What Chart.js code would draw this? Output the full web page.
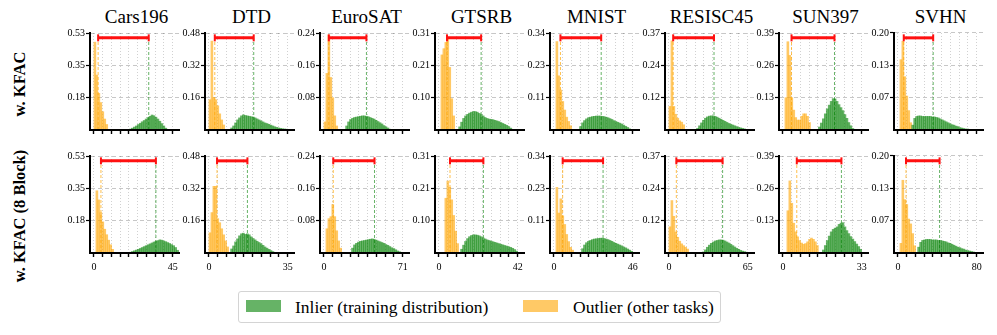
<!DOCTYPE html>
<html lang="en">
<head>
<meta charset="UTF-8">
<title>KFAC score histograms</title>
<script src="https://cdn.jsdelivr.net/npm/chart.js"></script>
<style>
    body { margin: 0; background: #fff; }
    #figure {
        position: relative;
        width: 997px;
        height: 335px;
        font-family: "Liberation Serif", "DejaVu Serif", serif;
        color: #000;
    }
    #figure canvas { position: absolute; }
    .title {
        position: absolute;
        top: 5px;
        width: 93px;
        text-align: center;
        font-size: 19px;
        line-height: 24px;
        white-space: nowrap;
    }
    .rowlabel {
        position: absolute;
        width: 200px;
        height: 24px;
        line-height: 24px;
        text-align: center;
        font-size: 16.5px;
        font-weight: bold;
        transform: rotate(-90deg);
        white-space: nowrap;
    }
    #legend {
        position: absolute;
        left: 238px;
        top: 291px;
        width: 483px;
        height: 32px;
        border: 1px solid #d4d4d4;
        border-radius: 3px;
        box-sizing: border-box;
        font-size: 17.5px;
    }
    #legend .patch { position: absolute; top: 8px; width: 35px; height: 12px; }
    #legend .label { position: absolute; top: 2px; line-height: 26px; white-space: nowrap; }
</style>
</head>
<body>
<div id="figure">
    <div id="legend">
        <div class="patch" style="left: 7px; background: rgba(0,128,0,0.6);"></div>
        <div class="label" style="left: 56px;">Inlier (training distribution)</div>
        <div class="patch" style="left: 284px; background: rgba(255,165,0,0.6);"></div>
        <div class="label" style="left: 334px;">Outlier (other tasks)</div>
    </div>
</div>

<script>
    // tasks (columns) and axes
    const taskNames = ['Cars196', 'DTD', 'EuroSAT', 'GTSRB', 'MNIST', 'RESISC45', 'SUN397', 'SVHN'];
    const xMax = [45, 35, 71, 42, 46, 65, 33, 80];
    const yMax = [0.53, 0.48, 0.24, 0.31, 0.34, 0.37, 0.39, 0.20];
    const yTickLabels = [
        ['0.18', '0.35', '0.53'], ['0.16', '0.32', '0.48'], ['0.08', '0.16', '0.24'], ['0.10', '0.21', '0.31'],
        ['0.11', '0.23', '0.34'], ['0.12', '0.24', '0.37'], ['0.13', '0.26', '0.39'], ['0.07', '0.13', '0.20']
    ];
    const binWidth = [1.125, 0.875, 1.775, 1.05, 1.15, 1.625, 0.825, 2.0];
    const rowNames = ['w. KFAC', 'w. KFAC (8 Block)'];

    // row 1: w. KFAC
    const kfacOutlierStart = [0, 0, 0, 1, 1, 0, 1, 1];
    const kfacOutlier = [
        [0.48, 0.30, 0.20, 0.15, 0.10, 0.06, 0.03],
        [0.15, 0.44, 0.16, 0.15, 0.12, 0.08, 0.05, 0.025],
        [0.02, 0.14, 0.235, 0.13, 0.08, 0.035, 0.01],
        [0.24, 0.26, 0.28, 0.29, 0.20, 0.10, 0.045],
        [0.31, 0.19, 0.14, 0.10, 0.07, 0.045, 0.03, 0.015],
        [0.09, 0.34, 0.09, 0.06, 0.045, 0.035, 0.03, 0.02],
        [0.13, 0.355, 0.30, 0.13, 0.08, 0.05, 0.04, 0.04, 0.055, 0.065, 0.065, 0.055, 0.03],
        [0.145, 0.183, 0.11, 0.07, 0.04, 0.015]
    ];
    const kfacInlierStart = [18, 11, 11, 10, 13, 14, 18, 7];
    const kfacInlier = [
        [0.005, 0.01, 0.016, 0.022, 0.03, 0.037, 0.045, 0.052, 0.06, 0.068, 0.075, 0.082, 0.078, 0.07, 0.06, 0.048, 0.035, 0.022, 0.01],
        [0.01, 0.02, 0.035, 0.05, 0.06, 0.07, 0.075, 0.072, 0.07, 0.068, 0.066, 0.064, 0.06, 0.055, 0.05, 0.045, 0.04, 0.035, 0.032, 0.028, 0.024, 0.02, 0.016, 0.013, 0.01, 0.008, 0.006, 0.005, 0.004],
        [0.01, 0.02, 0.026, 0.029, 0.031, 0.032, 0.033, 0.034, 0.035, 0.035, 0.034, 0.033, 0.031, 0.029, 0.027, 0.024, 0.021, 0.018, 0.015, 0.011, 0.008, 0.005, 0.002],
        [0.01, 0.025, 0.037, 0.045, 0.05, 0.054, 0.057, 0.059, 0.059, 0.057, 0.053, 0.049, 0.045, 0.04, 0.037, 0.035, 0.034, 0.033, 0.031, 0.029, 0.027, 0.024, 0.021, 0.018, 0.015, 0.011, 0.006],
        [0.012, 0.025, 0.033, 0.039, 0.043, 0.045, 0.047, 0.048, 0.049, 0.049, 0.049, 0.048, 0.047, 0.045, 0.043, 0.04, 0.037, 0.033, 0.03, 0.027, 0.024, 0.021, 0.017, 0.013, 0.009, 0.004],
        [0.006, 0.016, 0.027, 0.037, 0.045, 0.05, 0.053, 0.054, 0.054, 0.052, 0.049, 0.045, 0.041, 0.037, 0.033, 0.029, 0.025, 0.022, 0.019, 0.016, 0.013, 0.01, 0.008, 0.006, 0.004, 0.002],
        [0.012, 0.028, 0.045, 0.065, 0.085, 0.10, 0.115, 0.126, 0.125, 0.115, 0.102, 0.09, 0.078, 0.062, 0.047, 0.03, 0.017, 0.006],
        [0.01, 0.024, 0.028, 0.029, 0.029, 0.028, 0.028, 0.028, 0.028, 0.028, 0.027, 0.027, 0.026, 0.025, 0.023, 0.021, 0.019, 0.017, 0.015, 0.013, 0.011, 0.01, 0.008, 0.007, 0.005, 0.004, 0.003, 0.002, 0.002, 0.001, 0.001]
    ];
    const kfacOutlierMean = [2.4, 2.6, 4.4, 4.3, 3.8, 3.5, 3.6, 5.9];
    const kfacInlierMean = [31.3, 19.9, 38.3, 22.5, 27.6, 37.2, 21.6, 35.8];

    // row 2: w. KFAC (8 Block)
    const blockOutlierStart = [1, 0, 1, 3, 1, 0, 2, 1];
    const blockOutlier = [
        [0.34, 0.29, 0.22, 0.17, 0.13, 0.10, 0.07, 0.045, 0.02],
        [0.10, 0.20, 0.33, 0.33, 0.17, 0.15, 0.12, 0.09, 0.06, 0.03],
        [0.06, 0.085, 0.09, 0.12, 0.09, 0.055, 0.03, 0.012],
        [0.175, 0.23, 0.21, 0.17, 0.12, 0.07, 0.03],
        [0.23, 0.14, 0.19, 0.13, 0.10, 0.065, 0.04, 0.02, 0.01],
        [0.10, 0.20, 0.14, 0.08, 0.06, 0.045, 0.035, 0.028, 0.022, 0.015],
        [0.17, 0.29, 0.20, 0.12, 0.085, 0.065, 0.05, 0.04, 0.035, 0.038, 0.045, 0.055, 0.06, 0.055, 0.045, 0.03],
        [0.02, 0.15, 0.11, 0.10, 0.07, 0.06, 0.04, 0.015]
    ];
    const blockInlierStart = [18, 11, 14, 11, 14, 17, 20, 10];
    const blockInlier = [
        [0.004, 0.008, 0.012, 0.016, 0.02, 0.025, 0.03, 0.035, 0.04, 0.045, 0.05, 0.055, 0.06, 0.064, 0.068, 0.072, 0.07, 0.066, 0.062, 0.057, 0.052, 0.046, 0.04, 0.03, 0.015],
        [0.02, 0.035, 0.055, 0.07, 0.085, 0.095, 0.098, 0.092, 0.095, 0.09, 0.08, 0.072, 0.065, 0.058, 0.052, 0.046, 0.038, 0.03, 0.024, 0.018, 0.012, 0.007],
        [0.012, 0.02, 0.024, 0.027, 0.029, 0.03, 0.031, 0.032, 0.033, 0.034, 0.035, 0.034, 0.032, 0.03, 0.028, 0.026, 0.024, 0.021, 0.019, 0.016, 0.013, 0.011, 0.008, 0.005, 0.003],
        [0.012, 0.025, 0.037, 0.046, 0.052, 0.056, 0.058, 0.058, 0.057, 0.055, 0.052, 0.048, 0.045, 0.042, 0.04, 0.038, 0.036, 0.034, 0.032, 0.03, 0.028, 0.026, 0.024, 0.022, 0.02, 0.018, 0.015, 0.011, 0.006],
        [0.015, 0.028, 0.036, 0.041, 0.044, 0.047, 0.049, 0.05, 0.051, 0.052, 0.052, 0.051, 0.049, 0.047, 0.044, 0.041, 0.037, 0.034, 0.031, 0.028, 0.025, 0.021, 0.018, 0.014, 0.01, 0.006],
        [0.004, 0.012, 0.022, 0.03, 0.037, 0.042, 0.046, 0.048, 0.05, 0.05, 0.049, 0.046, 0.042, 0.038, 0.033, 0.028, 0.023, 0.018, 0.014, 0.01, 0.007, 0.005, 0.003],
        [0.012, 0.03, 0.05, 0.068, 0.085, 0.095, 0.10, 0.105, 0.115, 0.12, 0.122, 0.105, 0.09, 0.078, 0.066, 0.056, 0.046, 0.036, 0.026, 0.015],
        [0.012, 0.022, 0.026, 0.027, 0.028, 0.028, 0.028, 0.027, 0.027, 0.027, 0.026, 0.026, 0.025, 0.024, 0.023, 0.021, 0.02, 0.018, 0.016, 0.014, 0.012, 0.011, 0.009, 0.008, 0.006, 0.005, 0.004, 0.003, 0.002, 0.001]
    ];
    const blockOutlierMean = [4.0, 3.6, 8.4, 5.9, 5.1, 6.1, 5.8, 8.2];
    const blockInlierMean = [35.4, 17.1, 45.6, 23.7, 28.7, 44.3, 24.5, 42.3];

    const rows = [
        { outStart: kfacOutlierStart, out: kfacOutlier, inStart: kfacInlierStart, inl: kfacInlier, outMean: kfacOutlierMean, inMean: kfacInlierMean },
        { outStart: blockOutlierStart, out: blockOutlier, inStart: blockInlierStart, inl: blockInlier, outMean: blockOutlierMean, inMean: blockInlierMean }
    ];

    const green = 'rgba(0, 128, 0, 0.6)';
    const orange = 'rgba(255, 165, 0, 0.6)';
    const fontFamily = '"Liberation Serif", "DejaVu Serif", serif';
    const barLevel = 0.95; // red bar height, as a share of the y range

    // layout (px)
    const plotTop = [33, 156];
    const plotH = 97;
    const plotW = 93;
    const axisW = 34;
    const padTop = 8;
    const rowLabelY = [84, 216];

    const fig = document.getElementById('figure');

    function histPoints(start, values, w) {
        return values.map((v, i) => ({ x: (start + i + 0.5) * w, y: v }));
    }

    rowNames.forEach((label, r) => {
        const div = document.createElement('div');
        div.className = 'rowlabel';
        div.textContent = label;
        div.style.left = (20 - 100) + 'px';
        div.style.top = (rowLabelY[r] - 12) + 'px';
        fig.appendChild(div);
    });

    taskNames.forEach((name, c) => {
        const axisX = Math.round(90 + c * 114.9);

        const t = document.createElement('div');
        t.className = 'title';
        t.textContent = name;
        t.style.left = axisX + 'px';
        fig.appendChild(t);

        const xTicks = [];
        for (let k = 0; k <= 9; k++) xTicks.push({ value: xMax[c] * k / 9 });

        rows.forEach((row, r) => {
            const xAxisH = r === 0 ? 10 : 22;
            const canvas = document.createElement('canvas');
            canvas.width = axisW + plotW + 2;
            canvas.height = padTop + plotH + xAxisH;
            canvas.style.left = (axisX - axisW) + 'px';
            canvas.style.top = (plotTop[r] - padTop) + 'px';
            fig.appendChild(canvas);

            const level = yMax[c] * barLevel;
            const outMean = row.outMean[c];
            const inMean = row.inMean[c];

            new Chart(canvas, {
                type: 'bar',
                data: {
                    datasets: [
                        {
                            type: 'line',
                            data: [{ x: outMean, y: level }, { x: inMean, y: level }],
                            borderColor: '#ff1010',
                            borderWidth: 3,
                            pointStyle: 'line',
                            pointRotation: 90,
                            pointRadius: 3.5,
                            pointBorderWidth: 2,
                            pointBorderColor: '#ff1010',
                            order: 0
                        },
                        {
                            type: 'line',
                            data: [{ x: outMean, y: 0 }, { x: outMean, y: level }],
                            borderColor: 'rgba(255, 165, 0, 0.7)',
                            borderWidth: 1,
                            borderDash: [3, 2],
                            pointRadius: 0,
                            order: 1
                        },
                        {
                            type: 'line',
                            data: [{ x: inMean, y: 0 }, { x: inMean, y: level }],
                            borderColor: 'rgba(0, 128, 0, 0.6)',
                            borderWidth: 1,
                            borderDash: [3, 2],
                            pointRadius: 0,
                            order: 1
                        },
                        {
                            data: histPoints(row.inStart[c], row.inl[c], binWidth[c]),
                            backgroundColor: green,
                            borderWidth: 0,
                            grouped: false,
                            barPercentage: 1,
                            categoryPercentage: 1,
                            order: 2
                        },
                        {
                            data: histPoints(row.outStart[c], row.out[c], binWidth[c]),
                            backgroundColor: orange,
                            borderWidth: 0,
                            grouped: false,
                            barPercentage: 1,
                            categoryPercentage: 1,
                            order: 2
                        }
                    ]
                },
                options: {
                    responsive: false,
                    animation: false,
                    events: [],
                    layout: { padding: { top: padTop, right: 2, left: 0, bottom: 0 } },
                    plugins: { legend: { display: false }, tooltip: { enabled: false } },
                    scales: {
                        x: {
                            type: 'linear',
                            min: -0.05 * xMax[c],
                            max: 1.08 * xMax[c],
                            offset: false,
                            afterBuildTicks: (s) => { s.ticks = xTicks.map(t => ({ value: t.value })); },
                            afterFit: (s) => { s.height = xAxisH; },
                            ticks: {
                                autoSkip: false,
                                maxRotation: 0,
                                padding: 4,
                                color: '#000',
                                font: { family: fontFamily, size: 10 },
                                callback: (v, i) => (r === 1 && (i === 0 || i === 9)) ? String(Math.round(v)) : ''
                            },
                            grid: {
                                offset: false,
                                color: 'rgba(0, 0, 0, 0.18)',
                                lineWidth: 1,
                                tickColor: '#000',
                                tickLength: 4,
                                tickWidth: 1.4
                            },
                            border: { color: '#000', width: 2, dash: [1, 2], z: 1 }
                        },
                        y: {
                            min: 0,
                            max: yMax[c],
                            afterBuildTicks: (s) => { s.ticks = [1, 2, 3].map(k => ({ value: yMax[c] * k / 3 })); },
                            afterFit: (s) => { s.width = axisW; },
                            ticks: {
                                padding: 1,
                                color: '#000',
                                font: { family: fontFamily, size: 10 },
                                callback: (v, i) => yTickLabels[c][i]
                            },
                            grid: {
                                color: 'rgba(0, 0, 0, 0.22)',
                                lineWidth: 1,
                                tickColor: '#000',
                                tickLength: 4,
                                tickWidth: 1.2
                            },
                            border: { color: '#000', width: 2, dash: [4, 3], z: 1 }
                        }
                    }
                }
            });
        });
    });
</script>
</body>
</html>
